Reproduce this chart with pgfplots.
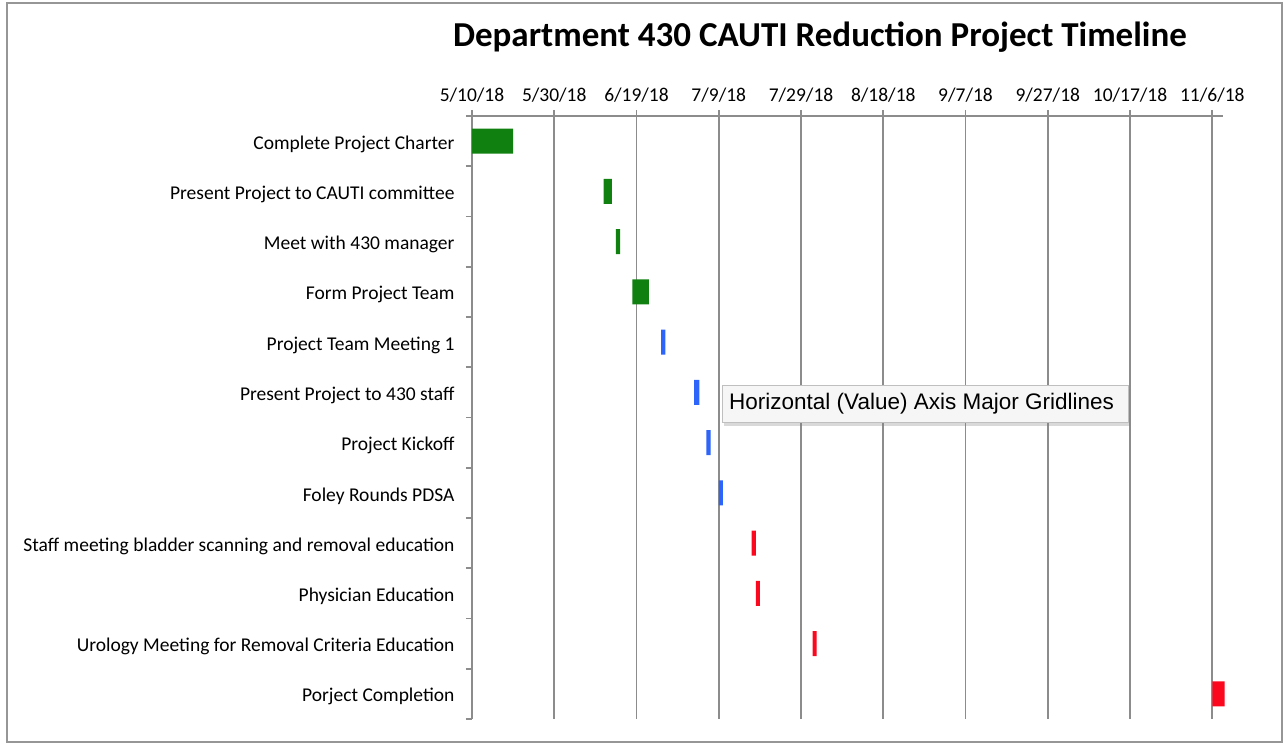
\documentclass[border=0pt]{standalone}
\usepackage{pgfplots}
\pgfplotsset{compat=1.18}
\usepackage{pgfplotstable}
\usepackage{fontspec}
\setmainfont{Carlito}
\newfontfamily\tipfont{Liberation Sans}
\usetikzlibrary{shadows}
\definecolor{ggreen}{RGB}{16,128,16}
\definecolor{gblue}{RGB}{45,100,250}
\definecolor{gred}{RGB}{252,8,30}
\definecolor{gridgray}{RGB}{140,140,140}
\definecolor{framegray}{RGB}{150,150,150}

\pgfplotstableread{
y start g b r
11 0 10 0 0
10 32 2 0 0
9 35 1 0 0
8 39 4 0 0
7 46 0 1 0
6 54 0 1.3 0
5 57 0 1 0
4 60 0 1 0
3 68 0 0 1
2 69 0 0 1
1 82.8 0 0 1
0 180 0 0 3
}\tasks

\begin{document}
\begin{tikzpicture}
\path (0pt,0pt) rectangle (1285pt,744pt);
\draw[framegray, line width=2pt] (7pt,2pt) rectangle (1282pt,741pt);
\begin{axis}[
  at={(472pt,25pt)}, anchor=south west,
  scale only axis, width=751pt, height=603pt,
  xbar stacked, bar width=0.5,
  xmin=0, xmax=182.6, ymin=-0.5, ymax=11.5,
  clip=false,
  axis x line*=top, axis y line*=left,
  axis line style={gridgray, line width=1.7pt, -},
  xtick={0,20,...,180},
  xticklabels={5/10/18,5/30/18,6/19/18,7/9/18,7/29/18,8/18/18,9/7/18,9/27/18,10/17/18,11/6/18},
  ytick={0,...,11},
  yticklabels={Porject Completion,Urology Meeting for Removal Criteria Education,Physician Education,Staff meeting bladder scanning and removal education,Foley Rounds PDSA,Project Kickoff,Present Project to 430 staff,Project Team Meeting 1,Form Project Team,Meet with 430 manager,Present Project to CAUTI committee,Complete Project Charter},
  minor ytick={-0.5,0.5,...,11.5},
  tick align=outside,
  major tick length=6pt, minor tick length=6pt,
  tick style={gridgray, line width=1.7pt},
  major y tick style={draw=none},
  xmajorgrids,
  grid style={gridgray, line width=1.7pt},
  ticklabel style={font=\fontsize{19.5}{22}\selectfont, text=black},
  xticklabel style={yshift=4pt},
  yticklabel style={xshift=-8pt, yshift=-3pt},
]
\addplot[draw=none, fill=none] table[x=start,y=y]{\tasks};
\addplot[draw=none, fill=ggreen] table[x=g,y=y]{\tasks};
\addplot[draw=none, fill=gblue] table[x=b,y=y]{\tasks};
\addplot[draw=none, fill=gred] table[x=r,y=y]{\tasks};
\end{axis}
\node[font=\bfseries\fontsize{35}{40}\selectfont] at (820pt,707pt) {Department 430 CAUTI Reduction Project Timeline};
\node[draw=gray!50, fill=gray!7, drop shadow={opacity=0.3, shadow xshift=2pt, shadow yshift=-4pt}, minimum width=406pt, minimum height=37pt, anchor=south west, inner sep=0pt] at (722pt,322pt) {};
\node[anchor=west, inner sep=0pt, font=\tipfont\fontsize{22.5}{26}\selectfont] at (729pt,340.5pt) {Horizontal (Value) Axis Major Gridlines};
\end{tikzpicture}
\end{document}
